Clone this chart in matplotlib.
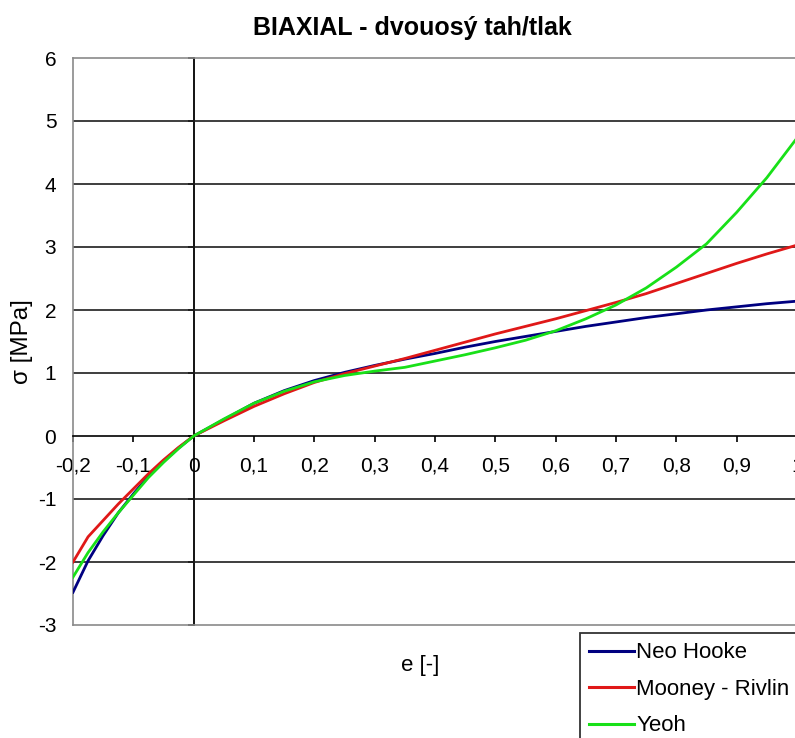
import numpy as np
import matplotlib
matplotlib.use("Agg")
import matplotlib.pyplot as plt

plt.rcParams["font.family"] = ["Liberation Sans", "DejaVu Sans"]

# strain e [-]
strain = [-0.2, -0.175, -0.15, -0.125, -0.1, -0.075, -0.05, -0.025, 0.0,
          0.05, 0.1, 0.15, 0.2, 0.25, 0.3, 0.35, 0.4, 0.45, 0.5,
          0.55, 0.6, 0.65, 0.7, 0.75, 0.8, 0.85, 0.9, 0.95, 1.0]

# stress sigma [MPa]
neo_hooke = [-2.48, -1.98, -1.58, -1.22, -0.92, -0.64, -0.40, -0.19, 0.0,
             0.26, 0.52, 0.72, 0.88, 1.01, 1.12, 1.22, 1.31, 1.41, 1.50,
             1.58, 1.66, 1.74, 1.81, 1.88, 1.94, 2.00, 2.05, 2.10, 2.14]
mooney_rivlin = [-2.00, -1.60, -1.34, -1.08, -0.84, -0.60, -0.38, -0.18, 0.0,
                 0.24, 0.47, 0.67, 0.85, 0.99, 1.11, 1.23, 1.36, 1.49, 1.62,
                 1.74, 1.86, 1.99, 2.12, 2.26, 2.42, 2.58, 2.74, 2.89, 3.03]
yeoh = [-2.24, -1.85, -1.52, -1.22, -0.94, -0.66, -0.42, -0.20, 0.0,
        0.27, 0.52, 0.71, 0.86, 0.96, 1.03, 1.09, 1.19, 1.29, 1.40,
        1.52, 1.67, 1.86, 2.08, 2.35, 2.68, 3.05, 3.55, 4.10, 4.73]

series = [
    ("Neo Hooke", neo_hooke, "#000080"),
    ("Mooney - Rivlin", mooney_rivlin, "#e01818"),
    ("Yeoh", yeoh, "#18e018"),
]

x_ticks = [-0.2, -0.1, 0.0, 0.1, 0.2, 0.3, 0.4, 0.5, 0.6, 0.7, 0.8, 0.9, 1.0]
x_labels = ["-0,2", "-0,1", "0", "0,1", "0,2", "0,3", "0,4", "0,5", "0,6",
            "0,7", "0,8", "0,9", "1"]
y_ticks = [-3, -2, -1, 0, 1, 2, 3, 4, 5, 6]

W, H = 795, 738
fig = plt.figure(figsize=(W / 100, H / 100), dpi=100)
ax = fig.add_axes([73 / W, (H - 625) / H, (797 - 73) / W, (625 - 58) / H])

for name, vals, col in series:
    ax.plot(strain, vals, color=col, lw=2.0, label=name, zorder=4)

ax.set_xlim(-0.2, 1.0)
ax.set_ylim(-3, 6)

# horizontal grid
ax.set_yticks(y_ticks)
ax.set_yticklabels([str(v) for v in y_ticks])
ax.grid(axis="y", color="#1e1e1e", lw=1.2)
for t in ax.yaxis.get_major_ticks():
    if t.get_loc() in (-3, 0, 6):
        t.gridline.set_visible(False)
ax.tick_params(axis="y", length=0, pad=12, labelsize=15)

# x axis crossing at sigma = 0
ax.spines["bottom"].set_position(("data", 0))
ax.spines["bottom"].set_color("black")
ax.spines["bottom"].set_linewidth(1.2)
ax.set_xticks(x_ticks)
ax.set_xticklabels(x_labels)
ax.tick_params(axis="x", direction="out", length=4, width=1.2, pad=11,
               labelsize=15, color="black")

# plot area border
for s in ("top", "left"):
    ax.spines[s].set_color("#8a8a8a")
    ax.spines[s].set_linewidth(1.2)
ax.spines["right"].set_visible(False)
ax.axhline(-3, color="#8a8a8a", lw=1.2, clip_on=False, zorder=3)

# y axis crossing at e = 0
x0 = (0 - (-0.2)) / 1.2
sec = ax.secondary_yaxis(x0)
sec.spines["left"].set_color("black")
sec.spines["left"].set_linewidth(1.3)
sec.set_yticks(y_ticks)
sec.tick_params(axis="y", length=4, width=1.2, labelleft=False)

ax.set_xlabel("e [-]", fontsize=16, va="center")
ax.xaxis.set_label_coords((420 - 73) / 724, (625 - 665) / 567)
ax.set_ylabel("σ [MPa]", fontsize=17.5, va="center")
ax.yaxis.set_label_coords((22 - 73) / 724, 0.5)

fig.text(412 / W, 1 - 28 / H, "BIAXIAL - dvouosý tah/tlak",
         ha="center", va="center", fontsize=18, fontweight="bold")

leg = fig.legend(loc="upper left", bbox_to_anchor=(580 / W, 1 - 633 / H),
                 fontsize=16, frameon=True, fancybox=False, borderaxespad=0,
                 handlelength=2.0, handletextpad=0.12, labelspacing=0.7,
                 borderpad=0.42)
leg.get_frame().set_edgecolor("black")
leg.get_frame().set_linewidth(1.3)
for line in leg.get_lines():
    line.set_linewidth(2.2)

fig.savefig("out.png", dpi=100)
